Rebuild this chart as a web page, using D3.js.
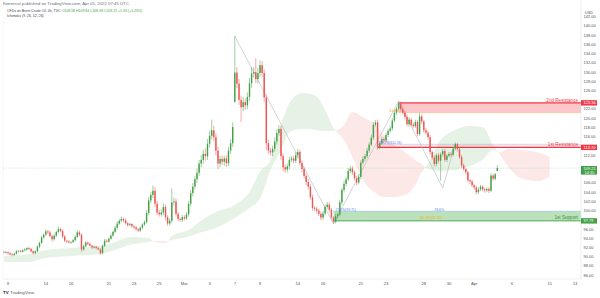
<!DOCTYPE html>
<html>
<head>
<meta charset="utf-8">
<script src="https://cdn.jsdelivr.net/npm/d3@7"></script>
<style>
  body { margin: 0; background: #fff; }
  svg { display: block; font-family: "Liberation Sans", Arial, sans-serif; }
</style>
</head>
<body>
<svg id="chart"></svg>
<script>
// Brent 4h candles, Feb 8 -> Apr 5 2022 (bar 0 = Feb 8 late)

// closes per 4h bar
const closes = [
  90.9, 91.0, 90.8, 90.5, 90.4, 90.7, 91.2, 91.3, 91.1, 91.4,
  91.6, 91.9, 91.7, 91.2, 90.8, 91.2, 92.2, 93.0, 94.2, 94.8,
  95.5, 95.3, 94.5, 93.8, 94.6, 95.4, 96.0, 95.6, 94.4, 93.5,
  93.3, 93.1, 93.2, 93.6, 94.3, 95.3, 94.8, 91.6, 92.3, 93.1,
  92.8, 92.4, 92.0, 92.2, 91.9, 91.6, 90.8, 92.4, 93.5, 93.3,
  93.9, 94.6, 95.4, 96.3, 97.2, 97.8, 98.2, 97.9, 97.3, 96.9,
  97.1, 96.6, 96.4, 96.0, 95.7, 96.3, 97.0, 97.5, 99.5, 102.2,
  103.4, 104.3, 101.5, 99.6, 99.2, 99.6, 100.8, 98.6, 97.2, 97.8,
  101.8, 102.0, 99.3, 98.2, 98.0, 98.6, 98.3, 99.2, 101.5, 103.8,
  105.2, 106.8, 108.2, 110.2, 111.0, 112.3, 111.8, 114.5, 116.2, 117.4,
  115.9, 113.0, 110.2, 111.2, 110.6, 111.3, 110.3, 113.0, 114.6, 118.1,
  129.9, 127.5, 124.0, 122.4, 123.5, 122.8, 124.6, 127.6, 129.7, 130.0,
  128.5, 129.8, 131.5, 129.8, 124.5, 114.6, 113.0, 112.6, 113.4, 115.0,
  116.8, 117.7, 111.8, 109.4, 108.9, 109.6, 111.0, 111.3, 110.8, 112.0,
  112.7, 110.3, 109.0, 107.5, 106.2, 105.2, 102.9, 100.6, 100.4, 100.0,
  99.3, 98.5, 99.4, 100.8, 101.3, 100.2, 98.5, 97.6, 98.8, 99.2,
  101.8, 104.5, 105.8, 106.8, 108.6, 109.1, 108.3, 107.0, 106.1, 107.3,
  110.4, 111.2, 111.8, 113.0, 114.3, 115.8, 118.6, 119.1, 113.8, 114.6,
  115.5, 115.2, 116.4, 117.3, 117.8, 119.5, 121.2, 122.1, 123.2, 122.0,
  121.2, 120.3, 118.7, 119.7, 118.6, 118.3, 119.2, 116.6, 120.4, 119.3,
  117.4, 116.9, 115.9, 112.7, 111.5, 110.1, 112.0, 110.8, 112.2, 112.9,
  111.0, 111.9, 112.3, 112.1, 113.4, 114.4, 113.3, 111.6, 109.8, 109.0,
  108.3, 106.6, 106.3, 105.5, 105.0, 104.0, 104.6, 105.2, 104.6, 104.4,
  104.7, 104.3, 107.6, 106.9, 107.88, 109.21
];

// opens that differ from the previous close
const gapOpens = { 0: 91.1, 110: 123.6, 235: 108.58 };

// wick lengths above / below the body
const upWick = [
  .2,.3,.2,.2,.3,.2,.3,.2,.2,.3,  .3,.2,.3,.2,.3,.2,.3,.3,.4,.3,
  .5,.3,.4,.3,.4,.3,.6,.3,.4,.3,  .2,.3,.2,.3,.4,.5,.4,.3,.3,.3,
  .2,.3,.2,.3,.2,.3,.3,.3,.4,.3,  .3,.4,.3,.4,.5,.4,.5,.3,.4,.3,
  .3,.2,.3,.3,.2,.3,.3,.4,.6,.8,  .7,1.1,.8,.6,.5,.7,.8,.5,.4,.5,
  3.0,.9,.6,.4,.3,.5,.4,.5,.6,.7, .8,.7,.9,.8,1.0,.9,1.2,1.0,1.1,2.3,
  1.0,.8,.9,.7,.8,.6,.7,.8,.9,1.0, 7.9,1.2,1.0,.9,1.1,.8,1.0,1.2,1.4,1.0,
  3.0,1.1,1.0,.9,.8,.7,.8,.6,.7,.9, .8,.8,.7,.6,.5,.6,.7,.5,.6,.7,
  .6,.5,.6,.4,.5,.6,.5,.6,.4,.5,  .4,.5,.6,.5,.6,.5,.4,.3,.5,.4,
  .6,.5,.7,.5,.6,.5,.6,.4,.5,.6,  .5,.6,.5,.6,.5,.7,.6,.5,.6,.5,
  .5,.4,.5,.4,.5,.6,.5,.4,.5,.4,  .5,.4,.5,.6,.4,.5,.5,.4,.8,.5,
  .4,.5,.4,.5,.4,.5,.4,.5,.4,.5,  .4,.3,.4,.5,.4,.4,.3,.4,.5,.4,
  .3,.4,.3,.4,.3,.4,.5,.4,.3,.4,  .3,.4,.5,.4,.3,.63
];
const dnWick = [
  .2,.2,.3,.2,.3,.2,.2,.3,.2,.2,  .2,.3,.2,.3,.3,.2,.2,.3,.2,.3,
  .3,.4,.3,.5,.3,.3,.4,.3,.4,.3,  .3,.2,.3,.2,.3,.3,.4,.5,.3,.2,
  .3,.2,.3,.2,.3,.2,.4,.3,.3,.2,  .3,.2,.3,.3,.4,.3,.3,.4,.3,.4,
  .3,.3,.4,.3,.4,.3,.3,.3,.3,.5,  .6,.7,.8,.6,.5,.5,.6,.7,.5,.4,
  .5,.7,.6,.5,.4,.5,.4,.3,.5,.6,  .7,.6,.8,.7,.8,.9,1.0,.8,.9,.8,
  .9,1.0,1.2,.8,.7,.9,.8,.6,.7,.8, .3,1.0,1.1,3.2,.9,1.0,.8,.9,1.0,.8,
  .9,1.0,.8,.9,1.0,1.5,.8,.7,.8,.6, .7,.6,.8,.9,.7,.6,.7,.5,.6,.5,
  .6,.5,.6,.5,.7,.6,.5,.6,.5,.6,  .5,.6,.5,.4,.5,.6,.5,.45,.4,.5,
  .4,.5,.6,.5,.4,.5,.6,.5,.6,.4,  .5,.4,.5,.4,.5,.4,.5,.4,.6,.5,
  .4,.5,.4,.5,.4,.5,.4,.5,.4,.5,  .4,.5,.4,.5,.4,.5,.4,.5,.4,.5,
  .5,.4,.5,.6,.5,.6,.5,.6,4.3,.5, .4,.5,.4,.5,.3,.4,.5,.4,.5,.4,
  .5,.4,.5,.4,.5,.5,.4,.3,.4,.5,  .4,.5,.3,.4,.3,0
];

// Ichimoku cloud (already shifted 26 bars forward), read at these bars
const cloudBars = [0, 12, 20, 32, 46, 53, 60, 69, 72, 77, 80, 89, 93, 101, 110, 117, 122, 127,
  132, 136, 142, 148, 153, 157, 159, 162, 166, 171, 177, 181, 186, 191, 196, 199, 201, 208,
  215, 222, 228, 233, 236, 240, 246, 254, 260];
const spanA = [90.18, 90.61, 91.48, 91.91, 92.35, 93.21, 94.30, 94.08, 93.21, 93.0, 94.51, 96.03,
  97.54, 99.71, 101.22, 104.04, 108.5, 110.97, 118.5, 123.3, 125.48, 125.05, 121.8, 117.9,
  116.82, 115.3, 111.62, 106.64, 103.82, 102.96, 102.96, 103.39, 105.56, 108.37, 109.45,
  115.3, 117.47, 118.33, 118.11, 114.22, 112.3, 109.67, 107.07, 106.42, 107.28];
const spanB = [88.88, 88.88, 89.75, 90.18, 90.61, 91.48, 92.57, 93.21, 93.43, 93.43, 93.65, 94.51,
  95.16, 96.24, 98.41, 100.58, 102.5, 108.8, 113.1, 117.0, 117.68, 117.47, 117.25, 117.25,
  117.47, 118.55, 121.36, 120.28, 118.55, 116.38, 114.22, 112.7, 110.97, 110.1, 109.23,
  108.59, 108.8, 109.67, 110.97, 113.14, 112.6, 113.35, 113.14, 112.7, 111.62];

// pattern drawn on the chart: [bar, price]
const zigzag = [[110, 137.8], [157, 97.15], [188, 123.7], [209, 104.9], [215, 114.65]];

// levels
const res2 = 123.34, res2Low = 121.21, res2Start = 188;
const res1 = 113.70, res1High = 114.37, res1Start = 178;
const sup1 = 97.79, sup1High = 99.9, sup1Start = 157;
const lastPrice = 109.21;

// axis labels
const priceTicks = d3.range(86, 143, 2);
const dayLabels = ["9", "14", "16", "21", "23", "25", "Mar", "3", "7", "9", "14", "16", "21", "23", "28", "30", "Apr", "6", "11", "13"];
const dayIndex = [0, 3, 5, 8, 10, 12, 14, 16, 18, 20, 23, 25, 28, 30, 33, 35, 37, 40, 43, 45];

// ---------------------------------------------------------------
const width = 600, height = 298;
const plotR = 581, plotB = 279;
const up = "#43a047", down = "#ef5350", red = "#f23645";

const svg = d3.select("#chart").attr("width", width).attr("height", height);

const x = d3.scaleLinear().domain([0, 262]).range([3.8, 3.8 + 2.1 * 262]);
const y = d3.scaleLinear().domain([86, 142]).range([275.3, 16.7]);
const dayX = d => x(2 + 6 * d);

svg.append("defs").append("clipPath").attr("id", "plot")
  .append("rect").attr("x", 3).attr("y", 0).attr("width", plotR - 3).attr("height", plotB);

const g = svg.append("g").attr("clip-path", "url(#plot)");

// cloud
const cloud = cloudBars.map((b, k) => ({ b, a: spanA[k], s: spanB[k] }));
const curve = d3.curveMonotoneX;
const defs = svg.select("defs");
defs.append("clipPath").attr("id", "aboveB").append("path")
  .attr("d", d3.area().curve(curve).x(d => x(d.b)).y0(0).y1(d => y(d.s))(cloud));
defs.append("clipPath").attr("id", "belowB").append("path")
  .attr("d", d3.area().curve(curve).x(d => x(d.b)).y0(plotB).y1(d => y(d.s))(cloud));
const band = d3.area().curve(curve).x(d => x(d.b)).y0(d => y(d.s)).y1(d => y(d.a));
g.append("g").attr("clip-path", "url(#aboveB)").append("path")
  .attr("d", band(cloud)).attr("fill", "#e6f2e6");
g.append("g").attr("clip-path", "url(#belowB)").append("path")
  .attr("d", band(cloud)).attr("fill", "#fde8e8");

// zones
g.append("rect").attr("x", x(res2Start)).attr("y", y(res2))
  .attr("width", plotR - x(res2Start)).attr("height", y(res2Low) - y(res2))
  .attr("fill", "rgba(242,54,69,0.28)");
g.append("rect").attr("x", x(res1Start)).attr("y", y(res1High))
  .attr("width", plotR - x(res1Start)).attr("height", y(res1) - y(res1High))
  .attr("fill", "rgba(242,54,69,0.12)");
g.append("rect").attr("x", x(sup1Start)).attr("y", y(sup1High))
  .attr("width", plotR - x(sup1Start)).attr("height", y(sup1) - y(sup1High))
  .attr("fill", "rgba(76,175,80,0.38)");

// dotted fib lines
function hline(v, x0, color, dash, w) {
  g.append("line").attr("x1", x0).attr("x2", plotR).attr("y1", y(v)).attr("y2", y(v))
    .attr("stroke", color).attr("stroke-width", w).attr("stroke-dasharray", dash);
}
hline(lastPrice, 3, "#8fcf93", "1,1.5", 0.5);
hline(res2Low, x(res2Start), "#f5a623", "1,1", 0.6);
hline(res1High, x(res1Start), "#7e9ef5", "1,1", 0.6);
hline(sup1High, x(sup1Start), "#7e9ef5", "1,1", 0.6);
hline(res2, x(res2Start), red, null, 1.3);
hline(res1, x(res1Start), red, null, 1.3);
hline(sup1, x(sup1Start), "#4caf50", null, 1);

// zigzag
g.append("path")
  .attr("d", d3.line().x(d => x(d[0])).y(d => y(d[1]))(zigzag))
  .attr("fill", "none").attr("stroke", "#b2b5be").attr("stroke-width", 0.6);

// candles
const bars = closes.map((c, i) => {
  const o = gapOpens[i] !== undefined ? gapOpens[i] : closes[i - 1];
  return { i, o, c, h: Math.max(o, c) + upWick[i], l: Math.min(o, c) - dnWick[i] };
});
const cg = g.append("g");
cg.selectAll("line").data(bars).join("line")
  .attr("x1", d => x(d.i)).attr("x2", d => x(d.i))
  .attr("y1", d => y(d.h)).attr("y2", d => y(d.l))
  .attr("stroke", d => d.c >= d.o ? up : down).attr("stroke-width", 0.5);
cg.selectAll("rect").data(bars).join("rect")
  .attr("x", d => x(d.i) - 0.7).attr("width", 1.4)
  .attr("y", d => y(Math.max(d.o, d.c)))
  .attr("height", d => Math.max(0.6, Math.abs(y(d.o) - y(d.c))))
  .attr("fill", d => d.c >= d.o ? up : down);

// fib texts
const fib = svg.append("g").attr("font-size", 3.4);
fib.append("text").attr("x", x(res2Start) - 9).attr("y", y(res2Low) - 0.3).attr("fill", "#f5a623").text("61.8%");
fib.append("text").attr("x", x(res1Start) + 2).attr("y", y(res1High) - 0.5).attr("fill", "#5b7ff0").text("38.2%(114.76)");
fib.append("text").attr("x", x(sup1Start) + 2).attr("y", y(sup1High) - 0.5).attr("fill", "#5b7ff0").text("27.2%(99.71)");
fib.append("text").attr("x", x(205)).attr("y", y(sup1High) - 0.5).attr("fill", "#5b7ff0").text("78.6%");
fib.append("text").attr("x", x(198)).attr("y", y(sup1) - 2).attr("fill", "#f5a623").text("161.8%(97.55)");

// level labels
const lab = svg.append("g").attr("font-size", 4.6).attr("text-anchor", "end");
lab.append("text").attr("x", 578).attr("y", y(res2) - 1.2).attr("fill", red).text("2nd Resistance");
lab.append("text").attr("x", 578).attr("y", y(res1) - 1.2).attr("fill", red).text("1st Resistance");
lab.append("text").attr("x", 578).attr("y", y(sup1) - 2).attr("fill", "#388e3c").text("1st Support");

// frame
svg.append("line").attr("x1", plotR).attr("x2", plotR).attr("y1", 0).attr("y2", plotB).attr("stroke", "#e0e3eb").attr("stroke-width", 0.6);
svg.append("line").attr("x1", 3).attr("x2", plotR).attr("y1", plotB).attr("y2", plotB).attr("stroke", "#e0e3eb").attr("stroke-width", 0.6);
svg.append("line").attr("x1", 3).attr("x2", 3).attr("y1", 20).attr("y2", plotB).attr("stroke", "#eef0f3").attr("stroke-width", 0.6);

// price axis
const boxes = [
  { v: res2, c: red, t: "123.34" },
  { v: res1, c: red, t: "113.70" },
  { v: lastPrice, c: up, t: "109.21", sub: "14:35" },
  { v: sup1, c: up, t: "97.79" }
];
const ax = svg.append("g").attr("font-size", 4.0).attr("fill", "#50535e");
ax.append("text").attr("x", 589).attr("y", 14).attr("text-anchor", "middle").text("USD");
ax.selectAll("text.tick")
  .data(priceTicks.filter(v => boxes.every(b => {
    const d = y(v) - y(b.v);
    return b.sub ? (d < -4.2 || d > 9) : Math.abs(d) > 4.5;
  })))
  .join("text").attr("class", "tick").attr("x", 583.5).attr("y", v => y(v) + 1.4).text(v => v.toFixed(2));
boxes.forEach(b => {
  const top = b.sub ? y(b.v) - 2.1 : y(b.v) - 2.7;
  const h = b.sub ? 8.6 : 5.4;
  ax.append("rect").attr("x", 581).attr("y", top).attr("width", 16).attr("height", h).attr("fill", b.c);
  ax.append("text").attr("x", 583.5).attr("y", y(b.v) + (b.sub ? 1.9 : 1.4)).attr("fill", "#fff").text(b.t);
  if (b.sub) ax.append("text").attr("x", 584.5).attr("y", y(b.v) + 5.8).attr("fill", "#fff").text(b.sub);
});

// time axis
svg.append("g").attr("font-size", 4.2).attr("fill", "#50535e").attr("text-anchor", "middle")
  .selectAll("text").data(dayLabels).join("text")
  .attr("x", (d, k) => dayX(dayIndex[k])).attr("y", 284.5).text(d => d);

// header
const hd = svg.append("g");
hd.append("text").attr("x", 3).attr("y", 5).attr("font-size", 4.3).attr("fill", "#6a6d78")
  .text("Kimerical published on TradingView.com, Apr 05, 2022 07:45 UTC");
const l2 = hd.append("text").attr("x", 7).attr("y", 12).attr("font-size", 3.5).attr("fill", "#434651");
l2.append("tspan").text("CFDs on Brent Crude Oil, 4h, TVC ");
l2.append("tspan").attr("fill", up).text("O108.58 H109.84 L108.58 C109.21 +1.33 (+1.23%)");
hd.append("text").attr("x", 7).attr("y", 17.3).attr("font-size", 3.5).attr("fill", "#434651").text("Ichimoku (9, 26, 52, 26)");

// logo
const lg = svg.append("g").attr("font-size", 4.4).attr("fill", "#131722");
lg.append("text").attr("x", 3).attr("y", 293.5).attr("font-weight", "bold").text("TV");
lg.append("text").attr("x", 10).attr("y", 293.5).attr("fill", "#50535e").text("TradingView");
</script>
</body>
</html>
